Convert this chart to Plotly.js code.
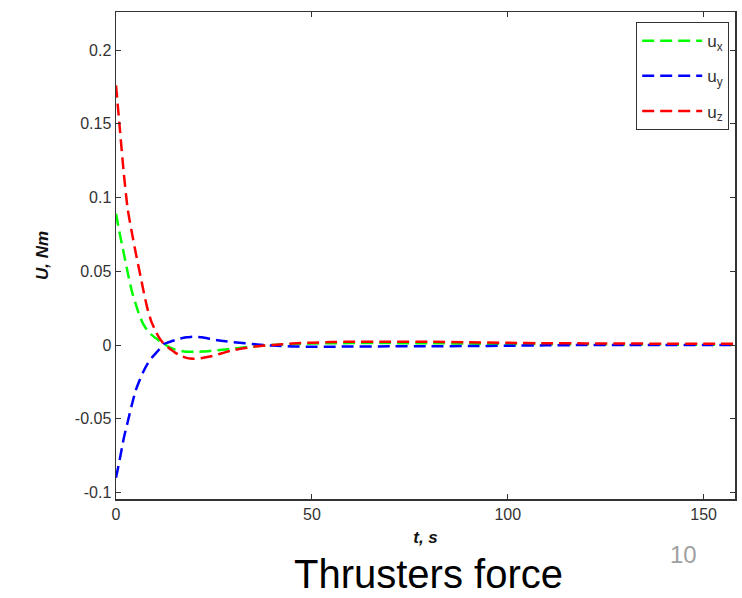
<!DOCTYPE html>
<html>
<head>
<meta charset="utf-8">
<script src="https://cdn.plot.ly/plotly-3.0.1.min.js"></script>
<style>
  html, body { margin: 0; padding: 0; background: #ffffff; }
  #chart { width: 742px; height: 598px; }
</style>
</head>
<body>
<div id="chart"></div>
<script>
// Time samples (s)
const timeSec = [0, 1, 2, 3, 4, 5, 6, 7, 8, 9, 10, 11, 12, 13, 14, 15, 16, 17, 18, 19, 20,
                 22, 24, 26, 28, 30, 33, 36, 40, 45, 50, 55, 60, 70, 80, 90, 100, 110, 120, 130, 140, 150, 158];

// u_x (green)
const uxValues = [0.089, 0.075, 0.062, 0.049, 0.037, 0.028, 0.020, 0.014, 0.010, 0.007, 0.005, 0.003, 0.0015,
                  -0.0005, -0.002, -0.003, -0.0037, -0.0042, -0.0045, -0.0046, -0.0046,
                  -0.0044, -0.004, -0.0035, -0.003, -0.0024, -0.0015, -0.0007, 0.0, 0.0006, 0.001, 0.0012, 0.0013,
                  0.0013, 0.0012, 0.001, 0.0008, 0.0006, 0.0005, 0.0004, 0.0003, 0.0002, 0.0002];

// u_y (blue)
const uyValues = [-0.090, -0.077, -0.063, -0.052, -0.041, -0.031, -0.024, -0.018, -0.013, -0.009, -0.006, -0.003, 0.0005,
                  0.0015, 0.0024, 0.0033, 0.0041, 0.0047, 0.0052, 0.0055, 0.0056,
                  0.0052, 0.0042, 0.0032, 0.0025, 0.0019, 0.0012, 0.0004, -0.0004, -0.001, -0.0011, -0.0011, -0.001,
                  -0.0009, -0.0008, -0.0007, -0.0005, -0.0002, 0, 0, 0, 0, 0];

// u_z (red)
const uzValues = [0.176, 0.146, 0.116, 0.092, 0.077, 0.063, 0.050, 0.037, 0.025, 0.016, 0.010, 0.005, 0.0015,
                  -0.001, -0.003, -0.005, -0.0065, -0.0078, -0.0087, -0.0092, -0.0093,
                  -0.0088, -0.0078, -0.0064, -0.0048, -0.0034, -0.002, -0.0009, 0.0001, 0.001, 0.0016, 0.002, 0.0022,
                  0.0023, 0.0022, 0.0019, 0.0015, 0.0012, 0.0011, 0.001, 0.0009, 0.0008, 0.0008];

const seriesNames = ["u<sub>x</sub>", "u<sub>y</sub>", "u<sub>z</sub>"];

const xTickVals = [0, 50, 100, 150];
const xTickText = ["0", "50", "100", "150"];
const yTickVals = [-0.1, -0.05, 0, 0.05, 0.1, 0.15, 0.2];
const yTickText = ["-0.1", "-0.05", "0", "0.05", "0.1", "0.15", "0.2"];

const xAxisTitle = "t, s";
const yAxisTitle = "U, Nm";
const captionText = "Thrusters force";
const pageNumber = "10";

const colors = ["#00ff00", "#0000ff", "#ff0000"];
const seriesValues = [uxValues, uyValues, uzValues];

const traces = seriesValues.map((vals, i) => ({
  x: timeSec,
  y: vals,
  type: "scatter",
  mode: "lines",
  name: seriesNames[i],
  legendgroup: "g" + i,
  line: { color: colors[i], width: 2.5, dash: "12px,6px", shape: "spline", smoothing: 0.6 }
}));

const axisFont = { family: "Liberation Sans, Arial, sans-serif", size: 16, color: "#333333" };
const titleFont = { family: "Liberation Sans, Arial, sans-serif", size: 17, color: "#111111", weight: "bold", style: "italic" };

const layout = {
  width: 742,
  height: 598,
  paper_bgcolor: "#ffffff",
  plot_bgcolor: "#ffffff",
  margin: { l: 116, r: 7, t: 12, b: 99 },
  showlegend: true,
  legend: {
    x: 0.9903, xanchor: "right",
    y: 0.9795, yanchor: "top",
    bgcolor: "#ffffff",
    bordercolor: "#333333",
    borderwidth: 1.2,
    traceorder: "grouped",
    tracegroupgap: 10,
    itemwidth: 60,
    font: { family: "Liberation Sans, Arial, sans-serif", size: 17, color: "#333333" }
  },
  xaxis: {
    range: [0, 158],
    tickvals: xTickVals,
    ticktext: xTickText,
    ticks: "inside",
    ticklen: 5,
    tickwidth: 1,
    tickcolor: "#333333",
    showline: true,
    linecolor: "#333333",
    linewidth: 1.5,
    mirror: "ticks",
    showgrid: false,
    zeroline: false,
    tickfont: axisFont,
    title: { text: xAxisTitle, font: titleFont, standoff: 9 }
  },
  yaxis: {
    range: [-0.1044, 0.2258],
    tickvals: yTickVals,
    ticktext: yTickText,
    ticks: "inside",
    ticklen: 5,
    tickwidth: 1,
    tickcolor: "#333333",
    showline: true,
    linecolor: "#333333",
    linewidth: 1.5,
    mirror: "ticks",
    showgrid: false,
    zeroline: false,
    tickfont: axisFont,
    title: { text: yAxisTitle, font: titleFont, standoff: 22 }
  },
  annotations: [
    {
      text: captionText,
      xref: "paper", yref: "paper",
      x: 0.505, y: -0.2033,
      xanchor: "center", yanchor: "bottom",
      showarrow: false,
      font: { family: "Liberation Sans, Arial, sans-serif", size: 40, color: "#000000" }
    },
    {
      text: pageNumber,
      xref: "paper", yref: "paper",
      x: 0.9176, y: -0.113,
      xanchor: "center", yanchor: "middle",
      showarrow: false,
      font: { family: "Liberation Sans, Arial, sans-serif", size: 24, color: "#a0a0a0" }
    }
  ]
};

Plotly.newPlot("chart", traces, layout, { displayModeBar: false, staticPlot: true });
</script>
</body>
</html>
